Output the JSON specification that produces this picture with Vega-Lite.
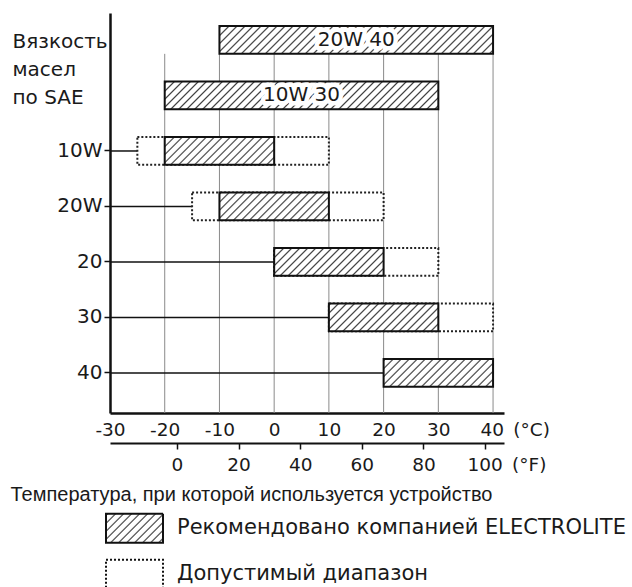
{
  "$schema": "https://vega.github.io/schema/vega-lite/v6.json",
  "autosize": {"type": "none"},
  "padding": {"left": 110, "top": 13, "right": 128, "bottom": 174},
  "width": 394,
  "height": 400,
  "background": "white",
  "config": {
    "font": "DejaVu Sans",
    "view": {"stroke": null},
    "axis": {"grid": false, "labelColor": "#1a1a1a", "titleColor": "#1a1a1a"}
  },
  "datasets": {
    "bars": [
      {"sae": "20W 40", "start": -10, "end": 40, "type": "rec", "label": "20W 40"},
      {"sae": "10W 30", "start": -20, "end": 30, "type": "rec", "label": "10W 30"},
      {"sae": "10W", "start": -25, "end": 10, "type": "dop"},
      {"sae": "10W", "start": -20, "end": 0, "type": "rec"},
      {"sae": "20W", "start": -15, "end": 20, "type": "dop"},
      {"sae": "20W", "start": -10, "end": 10, "type": "rec"},
      {"sae": "20", "start": 0, "end": 30, "type": "dop"},
      {"sae": "20", "start": 0, "end": 20, "type": "rec"},
      {"sae": "30", "start": 10, "end": 40, "type": "dop"},
      {"sae": "30", "start": 10, "end": 30, "type": "rec"},
      {"sae": "40", "start": 20, "end": 40, "type": "rec"}
    ],
    "lines": [
      {"sae": "10W", "from": -30, "to": -25},
      {"sae": "20W", "from": -30, "to": -15},
      {"sae": "20", "from": -30, "to": 0},
      {"sae": "30", "from": -30, "to": 10},
      {"sae": "40", "from": -30, "to": 20}
    ],
    "grid": [{"t": -20}, {"t": -10}, {"t": 0}, {"t": 10}, {"t": 20}, {"t": 30}, {"t": 40}],
    "fahr": [{"f": 0}, {"f": 20}, {"f": 40}, {"f": 60}, {"f": 80}, {"f": 100}],
    "legend": [
      {"item": "Рекомендовано компанией ELECTROLITE", "type": "rec"},
      {"item": "Допустимый диапазон", "type": "dop"}
    ]
  },
  "layer": [
    {
      "data": {"name": "grid"},
      "mark": {"type": "rule", "color": "#8a8a8a", "strokeWidth": 1},
      "encoding": {
        "x": {
          "field": "t",
          "type": "quantitative",
          "scale": {"domain": [-30, 42], "nice": false, "zero": false},
          "axis": {
            "orient": "bottom",
            "values": [-30, -20, -10, 0, 10, 20, 30, 40],
            "ticks": false,
            "domainWidth": 2.5,
            "domainColor": "#111111",
            "labelPadding": 7,
            "labelFontSize": 18.5,
            "labelFlush": false,
            "labelOverlap": false,
            "labelExpr": "datum.value == 40 ? '40\u2002(°C)' : '' + datum.value",
            "labelAlign": {"condition": {"test": "datum.value == 40", "value": "left"}, "value": "center"},
            "labelOffset": {"condition": {"test": "datum.value == 40", "value": -13}, "value": 0},
            "title": null
          }
        },
        "y": {"datum": "20W 40", "type": "nominal", "bandPosition": 1, "axis": null,
              "scale": {"type": "band", "domain": ["20W 40", "10W 30", "10W", "20W", "20", "30", "40"], "paddingInner": 0.5, "paddingOuter": 0.3535, "align": 0.334}},
        "y2": {"value": "height"}
      }
    },
    {
      "data": {"name": "lines"},
      "mark": {"type": "rule", "color": "#111111", "strokeWidth": 1.5},
      "encoding": {
        "x": {"field": "from", "type": "quantitative", "scale": {"domain": [-30, 42], "nice": false, "zero": false}, "axis": null, "title": null},
        "x2": {"field": "to"},
        "y": {
          "field": "sae",
          "type": "nominal",
          "scale": {"type": "band", "domain": ["20W 40", "10W 30", "10W", "20W", "20", "30", "40"], "paddingInner": 0.5, "paddingOuter": 0.3535, "align": 0.334},
          "axis": {
            "orient": "left",
            "values": ["10W", "20W", "20", "30", "40"],
            "domainWidth": 2.5,
            "domainColor": "#111111",
            "tickSize": 6,
            "tickWidth": 1.5,
            "tickColor": "#111111",
            "labelPadding": 2,
            "labelFontSize": 20,
            "title": ["Вязкость", "масел", "по SAE"],
            "titleAngle": 0,
            "titleAlign": "left",
            "titleBaseline": "alphabetic",
            "titleX": -98,
            "titleY": 34,
            "titleFontSize": 20,
            "titleFontWeight": "normal",
            "titleLineHeight": 28
          }
        }
      }
    },
    {
      "data": {"name": "bars"},
      "transform": [{"filter": "datum.type == 'dop'"}],
      "mark": {"type": "bar", "fill": "white", "stroke": "#222222", "strokeWidth": 2, "strokeDash": [2, 2]},
      "encoding": {
        "x": {"field": "start", "type": "quantitative", "scale": {"domain": [-30, 42], "nice": false, "zero": false}, "axis": null, "title": null},
        "x2": {"field": "end"},
        "y": {"field": "sae", "type": "nominal", "axis": null,
              "scale": {"type": "band", "domain": ["20W 40", "10W 30", "10W", "20W", "20", "30", "40"], "paddingInner": 0.5, "paddingOuter": 0.3535, "align": 0.334}}
      }
    },
    {
      "data": {"name": "bars"},
      "transform": [{"filter": "datum.type == 'rec'"}],
      "mark": {"type": "bar", "stroke": "#111111", "strokeWidth": 2},
      "encoding": {
        "x": {"field": "start", "type": "quantitative", "scale": {"domain": [-30, 42], "nice": false, "zero": false}, "axis": null, "title": null},
        "x2": {"field": "end"},
        "y": {"field": "sae", "type": "nominal", "axis": null,
              "scale": {"type": "band", "domain": ["20W 40", "10W 30", "10W", "20W", "20", "30", "40"], "paddingInner": 0.5, "paddingOuter": 0.3535, "align": 0.334}},
        "fill": {
          "condition": {
            "test": "datum.end - datum.start > 30",
            "value": {
              "gradient": "linear", "x1": 0, "y1": 0, "x2": 1.1577, "y2": 0.1174,
              "stops": [
                {"offset": 0, "color": "#ffffff"}, {"offset": 0.005, "color": "#3c3c3c"}, {"offset": 0.01, "color": "#ffffff"},
                {"offset": 0.025, "color": "#ffffff"}, {"offset": 0.03, "color": "#3c3c3c"}, {"offset": 0.035, "color": "#ffffff"},
                {"offset": 0.05, "color": "#ffffff"}, {"offset": 0.055, "color": "#3c3c3c"}, {"offset": 0.06, "color": "#ffffff"},
                {"offset": 0.075, "color": "#ffffff"}, {"offset": 0.08, "color": "#3c3c3c"}, {"offset": 0.085, "color": "#ffffff"},
                {"offset": 0.1, "color": "#ffffff"}, {"offset": 0.105, "color": "#3c3c3c"}, {"offset": 0.11, "color": "#ffffff"},
                {"offset": 0.125, "color": "#ffffff"}, {"offset": 0.13, "color": "#3c3c3c"}, {"offset": 0.135, "color": "#ffffff"},
                {"offset": 0.15, "color": "#ffffff"}, {"offset": 0.155, "color": "#3c3c3c"}, {"offset": 0.16, "color": "#ffffff"},
                {"offset": 0.175, "color": "#ffffff"}, {"offset": 0.18, "color": "#3c3c3c"}, {"offset": 0.185, "color": "#ffffff"},
                {"offset": 0.2, "color": "#ffffff"}, {"offset": 0.205, "color": "#3c3c3c"}, {"offset": 0.21, "color": "#ffffff"},
                {"offset": 0.225, "color": "#ffffff"}, {"offset": 0.23, "color": "#3c3c3c"}, {"offset": 0.235, "color": "#ffffff"},
                {"offset": 0.25, "color": "#ffffff"}, {"offset": 0.255, "color": "#3c3c3c"}, {"offset": 0.26, "color": "#ffffff"},
                {"offset": 0.275, "color": "#ffffff"}, {"offset": 0.28, "color": "#3c3c3c"}, {"offset": 0.285, "color": "#ffffff"},
                {"offset": 0.3, "color": "#ffffff"}, {"offset": 0.305, "color": "#3c3c3c"}, {"offset": 0.31, "color": "#ffffff"},
                {"offset": 0.325, "color": "#ffffff"}, {"offset": 0.33, "color": "#3c3c3c"}, {"offset": 0.335, "color": "#ffffff"},
                {"offset": 0.35, "color": "#ffffff"}, {"offset": 0.355, "color": "#3c3c3c"}, {"offset": 0.36, "color": "#ffffff"},
                {"offset": 0.375, "color": "#ffffff"}, {"offset": 0.38, "color": "#3c3c3c"}, {"offset": 0.385, "color": "#ffffff"},
                {"offset": 0.4, "color": "#ffffff"}, {"offset": 0.405, "color": "#3c3c3c"}, {"offset": 0.41, "color": "#ffffff"},
                {"offset": 0.425, "color": "#ffffff"}, {"offset": 0.43, "color": "#3c3c3c"}, {"offset": 0.435, "color": "#ffffff"},
                {"offset": 0.45, "color": "#ffffff"}, {"offset": 0.455, "color": "#3c3c3c"}, {"offset": 0.46, "color": "#ffffff"},
                {"offset": 0.475, "color": "#ffffff"}, {"offset": 0.48, "color": "#3c3c3c"}, {"offset": 0.485, "color": "#ffffff"},
                {"offset": 0.5, "color": "#ffffff"}, {"offset": 0.505, "color": "#3c3c3c"}, {"offset": 0.51, "color": "#ffffff"},
                {"offset": 0.525, "color": "#ffffff"}, {"offset": 0.53, "color": "#3c3c3c"}, {"offset": 0.535, "color": "#ffffff"},
                {"offset": 0.55, "color": "#ffffff"}, {"offset": 0.555, "color": "#3c3c3c"}, {"offset": 0.56, "color": "#ffffff"},
                {"offset": 0.575, "color": "#ffffff"}, {"offset": 0.58, "color": "#3c3c3c"}, {"offset": 0.585, "color": "#ffffff"},
                {"offset": 0.6, "color": "#ffffff"}, {"offset": 0.605, "color": "#3c3c3c"}, {"offset": 0.61, "color": "#ffffff"},
                {"offset": 0.625, "color": "#ffffff"}, {"offset": 0.63, "color": "#3c3c3c"}, {"offset": 0.635, "color": "#ffffff"},
                {"offset": 0.65, "color": "#ffffff"}, {"offset": 0.655, "color": "#3c3c3c"}, {"offset": 0.66, "color": "#ffffff"},
                {"offset": 0.675, "color": "#ffffff"}, {"offset": 0.68, "color": "#3c3c3c"}, {"offset": 0.685, "color": "#ffffff"},
                {"offset": 0.7, "color": "#ffffff"}, {"offset": 0.705, "color": "#3c3c3c"}, {"offset": 0.71, "color": "#ffffff"},
                {"offset": 0.725, "color": "#ffffff"}, {"offset": 0.73, "color": "#3c3c3c"}, {"offset": 0.735, "color": "#ffffff"},
                {"offset": 0.75, "color": "#ffffff"}, {"offset": 0.755, "color": "#3c3c3c"}, {"offset": 0.76, "color": "#ffffff"},
                {"offset": 0.775, "color": "#ffffff"}, {"offset": 0.78, "color": "#3c3c3c"}, {"offset": 0.785, "color": "#ffffff"},
                {"offset": 0.8, "color": "#ffffff"}, {"offset": 0.805, "color": "#3c3c3c"}, {"offset": 0.81, "color": "#ffffff"},
                {"offset": 0.825, "color": "#ffffff"}, {"offset": 0.83, "color": "#3c3c3c"}, {"offset": 0.835, "color": "#ffffff"},
                {"offset": 0.85, "color": "#ffffff"}, {"offset": 0.855, "color": "#3c3c3c"}, {"offset": 0.86, "color": "#ffffff"},
                {"offset": 0.875, "color": "#ffffff"}, {"offset": 0.88, "color": "#3c3c3c"}, {"offset": 0.885, "color": "#ffffff"},
                {"offset": 0.9, "color": "#ffffff"}, {"offset": 0.905, "color": "#3c3c3c"}, {"offset": 0.91, "color": "#ffffff"},
                {"offset": 0.925, "color": "#ffffff"}, {"offset": 0.93, "color": "#3c3c3c"}, {"offset": 0.935, "color": "#ffffff"}
              ]
            }
          },
          "value": {
            "gradient": "linear", "x1": 0, "y1": 0, "x2": 1.3741, "y2": 0.3486,
            "stops": [
              {"offset": 0, "color": "#ffffff"}, {"offset": 0.01, "color": "#3c3c3c"}, {"offset": 0.02, "color": "#ffffff"},
              {"offset": 0.05, "color": "#ffffff"}, {"offset": 0.06, "color": "#3c3c3c"}, {"offset": 0.07, "color": "#ffffff"},
              {"offset": 0.1, "color": "#ffffff"}, {"offset": 0.11, "color": "#3c3c3c"}, {"offset": 0.12, "color": "#ffffff"},
              {"offset": 0.15, "color": "#ffffff"}, {"offset": 0.16, "color": "#3c3c3c"}, {"offset": 0.17, "color": "#ffffff"},
              {"offset": 0.2, "color": "#ffffff"}, {"offset": 0.21, "color": "#3c3c3c"}, {"offset": 0.22, "color": "#ffffff"},
              {"offset": 0.25, "color": "#ffffff"}, {"offset": 0.26, "color": "#3c3c3c"}, {"offset": 0.27, "color": "#ffffff"},
              {"offset": 0.3, "color": "#ffffff"}, {"offset": 0.31, "color": "#3c3c3c"}, {"offset": 0.32, "color": "#ffffff"},
              {"offset": 0.35, "color": "#ffffff"}, {"offset": 0.36, "color": "#3c3c3c"}, {"offset": 0.37, "color": "#ffffff"},
              {"offset": 0.4, "color": "#ffffff"}, {"offset": 0.41, "color": "#3c3c3c"}, {"offset": 0.42, "color": "#ffffff"},
              {"offset": 0.45, "color": "#ffffff"}, {"offset": 0.46, "color": "#3c3c3c"}, {"offset": 0.47, "color": "#ffffff"},
              {"offset": 0.5, "color": "#ffffff"}, {"offset": 0.51, "color": "#3c3c3c"}, {"offset": 0.52, "color": "#ffffff"},
              {"offset": 0.55, "color": "#ffffff"}, {"offset": 0.56, "color": "#3c3c3c"}, {"offset": 0.57, "color": "#ffffff"},
              {"offset": 0.6, "color": "#ffffff"}, {"offset": 0.61, "color": "#3c3c3c"}, {"offset": 0.62, "color": "#ffffff"},
              {"offset": 0.65, "color": "#ffffff"}, {"offset": 0.66, "color": "#3c3c3c"}, {"offset": 0.67, "color": "#ffffff"},
              {"offset": 0.7, "color": "#ffffff"}, {"offset": 0.71, "color": "#3c3c3c"}, {"offset": 0.72, "color": "#ffffff"},
              {"offset": 0.75, "color": "#ffffff"}, {"offset": 0.76, "color": "#3c3c3c"}, {"offset": 0.77, "color": "#ffffff"},
              {"offset": 0.8, "color": "#ffffff"}, {"offset": 0.81, "color": "#3c3c3c"}, {"offset": 0.82, "color": "#ffffff"},
              {"offset": 0.85, "color": "#ffffff"}, {"offset": 0.86, "color": "#3c3c3c"}, {"offset": 0.87, "color": "#ffffff"}
            ]
          }
        }
      }
    },
    {
      "data": {"name": "bars"},
      "transform": [{"filter": "datum.label"}, {"fold": ["start", "end"]}],
      "mark": {"type": "text", "fontSize": 20, "fill": "white", "stroke": "white", "strokeWidth": 9, "strokeJoin": "round"},
      "encoding": {
        "x": {"aggregate": "mean", "field": "value", "type": "quantitative", "scale": {"domain": [-30, 42], "nice": false, "zero": false}, "axis": null, "title": null},
        "y": {"field": "sae", "type": "nominal", "axis": null, "bandPosition": 0.5,
              "scale": {"type": "band", "domain": ["20W 40", "10W 30", "10W", "20W", "20", "30", "40"], "paddingInner": 0.5, "paddingOuter": 0.3535, "align": 0.334}},
        "text": {"field": "label", "type": "nominal"}
      }
    },
    {
      "data": {"name": "bars"},
      "transform": [{"filter": "datum.label"}, {"fold": ["start", "end"]}],
      "mark": {"type": "text", "fontSize": 20, "fill": "#1a1a1a"},
      "encoding": {
        "x": {"aggregate": "mean", "field": "value", "type": "quantitative", "scale": {"domain": [-30, 42], "nice": false, "zero": false}, "axis": null, "title": null},
        "y": {"field": "sae", "type": "nominal", "axis": null, "bandPosition": 0.5,
              "scale": {"type": "band", "domain": ["20W 40", "10W 30", "10W", "20W", "20", "30", "40"], "paddingInner": 0.5, "paddingOuter": 0.3535, "align": 0.334}},
        "text": {"field": "label", "type": "nominal"}
      }
    },
    {
      "data": {"name": "legend"},
      "mark": {"type": "bar", "stroke": "#111111", "strokeWidth": 2},
      "encoding": {
        "x": {"datum": "glyph", "type": "nominal", "axis": null, "scale": {"type": "band", "range": [-4, 53], "paddingInner": 0, "paddingOuter": 0}},
        "y": {"field": "item", "type": "nominal", "axis": null,
              "scale": {"type": "band", "domain": ["Рекомендовано компанией ELECTROLITE", "Допустимый диапазон"], "range": [492.3, 584.3], "paddingInner": 0.37, "paddingOuter": 0.185}},
        "strokeDash": {"condition": {"test": "datum.type == 'dop'", "value": [2, 2]}, "value": [1, 0]},
        "fill": {
          "condition": {
            "test": "datum.type == 'rec'",
            "value": {
              "gradient": "linear", "x1": 0, "y1": 0, "x2": 1.3937, "y2": 0.7091,
              "stops": [
                {"offset": 0, "color": "#ffffff"}, {"offset": 0.016, "color": "#3c3c3c"}, {"offset": 0.032, "color": "#ffffff"},
                {"offset": 0.08, "color": "#ffffff"}, {"offset": 0.096, "color": "#3c3c3c"}, {"offset": 0.112, "color": "#ffffff"},
                {"offset": 0.16, "color": "#ffffff"}, {"offset": 0.176, "color": "#3c3c3c"}, {"offset": 0.192, "color": "#ffffff"},
                {"offset": 0.24, "color": "#ffffff"}, {"offset": 0.256, "color": "#3c3c3c"}, {"offset": 0.272, "color": "#ffffff"},
                {"offset": 0.32, "color": "#ffffff"}, {"offset": 0.336, "color": "#3c3c3c"}, {"offset": 0.352, "color": "#ffffff"},
                {"offset": 0.4, "color": "#ffffff"}, {"offset": 0.416, "color": "#3c3c3c"}, {"offset": 0.432, "color": "#ffffff"},
                {"offset": 0.48, "color": "#ffffff"}, {"offset": 0.496, "color": "#3c3c3c"}, {"offset": 0.512, "color": "#ffffff"},
                {"offset": 0.56, "color": "#ffffff"}, {"offset": 0.576, "color": "#3c3c3c"}, {"offset": 0.592, "color": "#ffffff"},
                {"offset": 0.64, "color": "#ffffff"}, {"offset": 0.656, "color": "#3c3c3c"}, {"offset": 0.672, "color": "#ffffff"},
                {"offset": 0.72, "color": "#ffffff"}, {"offset": 0.736, "color": "#3c3c3c"}, {"offset": 0.752, "color": "#ffffff"},
                {"offset": 0.8, "color": "#ffffff"}, {"offset": 0.816, "color": "#3c3c3c"}, {"offset": 0.832, "color": "#ffffff"}
              ]
            }
          },
          "value": "#ffffff"
        }
      }
    },
    {
      "data": {"name": "legend"},
      "mark": {"type": "text", "align": "left", "baseline": "middle", "dx": 42.5, "fontSize": 21, "fill": "#1a1a1a"},
      "encoding": {
        "x": {"datum": "glyph", "type": "nominal", "axis": null, "scale": {"type": "band", "range": [-4, 53], "paddingInner": 0, "paddingOuter": 0}},
        "y": {"field": "item", "type": "nominal", "axis": null, "bandPosition": 0.5,
              "scale": {"type": "band", "domain": ["Рекомендовано компанией ELECTROLITE", "Допустимый диапазон"], "range": [492.3, 584.3], "paddingInner": 0.37, "paddingOuter": 0.185}},
        "text": {"field": "item", "type": "nominal"}
      }
    },
    {
      "data": {"name": "fahr"},
      "mark": {"type": "rule", "opacity": 0},
      "encoding": {
        "x": {
          "field": "f",
          "type": "quantitative",
          "scale": {"domain": [-21.75, 106.17], "nice": false, "zero": false},
          "axis": {
            "orient": "bottom",
            "offset": 30,
            "values": [0, 20, 40, 60, 80, 100],
            "domainWidth": 2,
            "domainColor": "#111111",
            "tickSize": 6,
            "tickWidth": 1.5,
            "tickColor": "#111111",
            "labelPadding": 6,
            "labelFontSize": 18.5,
            "labelFlush": false,
            "labelOverlap": false,
            "labelExpr": "datum.value == 100 ? '100\u2002(°F)' : '' + datum.value",
            "labelAlign": {"condition": {"test": "datum.value == 100", "value": "left"}, "value": "center"},
            "labelOffset": {"condition": {"test": "datum.value == 100", "value": -18}, "value": 0},
            "title": "Температура, при которой используется устройство",
            "titleFont": "Liberation Sans",
            "titleX": -100,
            "titleY": 57,
            "titleAlign": "left",
            "titleBaseline": "alphabetic",
            "titleFontSize": 20,
            "titleFontWeight": "normal"
          }
        }
      }
    }
  ],
  "resolve": {"scale": {"x": "independent", "y": "independent"}, "axis": {"x": "independent", "y": "independent"}}
}
